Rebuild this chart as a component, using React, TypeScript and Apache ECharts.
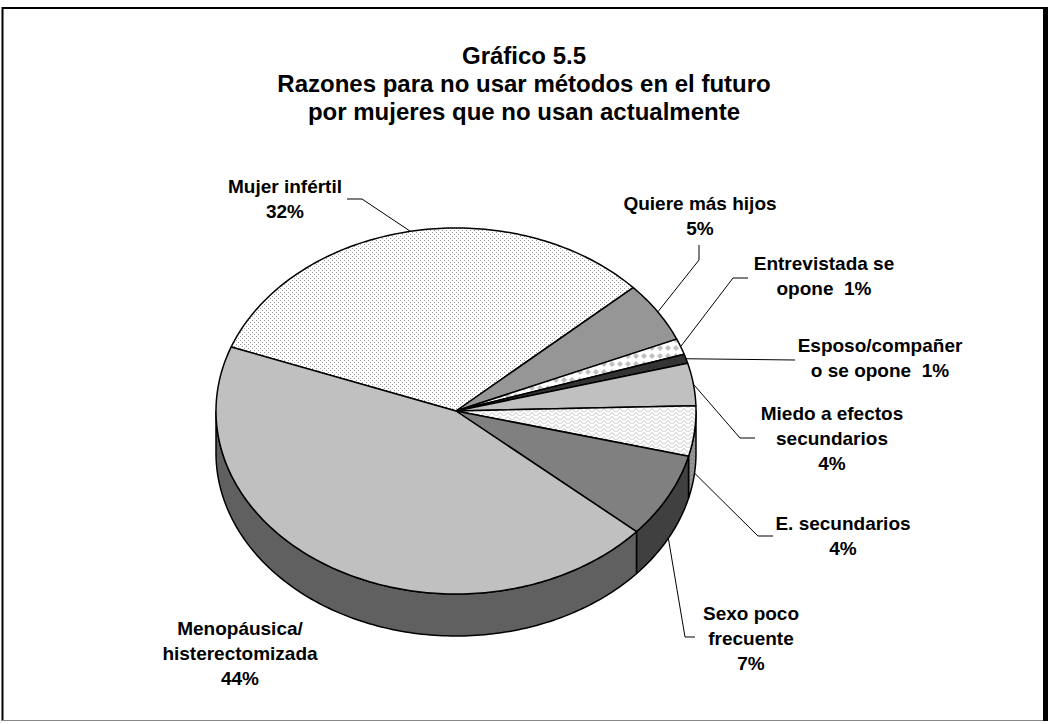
import React, { useEffect, useRef } from "react";
import * as echarts from "echarts";

// ---------- data ----------
const CATEGORIES = [
  "Mujer infértil",
  "Quiere más hijos",
  "Entrevistada se opone",
  "Esposo/compañero se opone",
  "Miedo a efectos secundarios",
  "E. secundarios",
  "Sexo poco frecuente",
  "Menopáusica/histerectomizada",
];
const LABEL_LINES = [
  "Mujer infértil",
  "Quiere más hijos",
  "Entrevistada se\nopone",
  "Esposo/compañer\no se opone",
  "Miedo a efectos\nsecundarios",
  "E. secundarios",
  "Sexo poco\nfrecuente",
  "Menopáusica/\nhisterectomizada",
];
const VALUES = [32.2, 5.3, 1.4, 0.8, 3.7, 4.4, 7.4, 43.8];
const TITLE_LINES = [
  "Gráfico 5.5",
  "Razones para no usar métodos en el futuro",
  "por mujeres que no usan actualmente",
];

// ---------- layout / style ----------
const FONT = "'Liberation Sans', Arial, sans-serif";
const PIE = { cx: 456, cy: 411, rx: 240, ry: 183, depth: 42, start: 200.5 };
const LABEL_LAYOUT: { x: number; y: number; sep: string; leader: number[][] | null }[] = [
  { x: 285, y: 199, sep: "\n", leader: [[347, 199], [362, 199]] },
  { x: 700, y: 216, sep: "\n", leader: [[699, 245], [699, 260]] },
  { x: 824, y: 276, sep: "  ", leader: [[748, 278], [733, 278]] },
  { x: 880, y: 358, sep: "  ", leader: [[795, 360]] },
  { x: 832, y: 438, sep: "\n", leader: [[755, 438], [740, 438]] },
  { x: 843, y: 536, sep: "\n", leader: [[773, 536], [758, 536]] },
  { x: 751, y: 638, sep: "\n", leader: [[695, 637], [685, 637]] },
  { x: 240, y: 653, sep: "\n", leader: null },
];
const TOP_FILL = ["dots", "#969696", "diamond", "#333333", "#c0c0c0", "zigzag", "#808080", "#c0c0c0"];
const SIDE_FILL = ["#777777", "#4b4b4b", "#888888", "#1a1a1a", "#606060", "zigzagDark", "#404040", "#606060"];

function makePattern(w: number, h: number, draw: (ctx: CanvasRenderingContext2D) => void) {
  const c = document.createElement("canvas");
  c.width = w;
  c.height = h;
  const ctx = c.getContext("2d") as CanvasRenderingContext2D;
  draw(ctx);
  return { image: c.toDataURL(), repeat: "repeat", imageWidth: w, imageHeight: h };
}

function buildPatterns() {
  const dots = makePattern(4, 4, (ctx) => {
    ctx.fillStyle = "#ffffff";
    ctx.fillRect(0, 0, 4, 4);
    ctx.fillStyle = "#9a9a9a";
    ctx.fillRect(0, 0, 1, 1);
    ctx.fillRect(2, 2, 1, 1);
  });
  const diamond = makePattern(8, 8, (ctx) => {
    ctx.fillStyle = "#ffffff";
    ctx.fillRect(0, 0, 8, 8);
    ctx.fillStyle = "#c0c0c0";
    ctx.beginPath();
    ctx.moveTo(4, 1);
    ctx.lineTo(7, 4);
    ctx.lineTo(4, 7);
    ctx.lineTo(1, 4);
    ctx.closePath();
    ctx.fill();
  });
  const zig = (bg: string, fg: string) =>
    makePattern(8, 8, (ctx) => {
      ctx.fillStyle = bg;
      ctx.fillRect(0, 0, 8, 8);
      ctx.strokeStyle = fg;
      ctx.lineWidth = 1;
      ctx.beginPath();
      ctx.moveTo(0, 4.5);
      ctx.lineTo(4, 0.5);
      ctx.lineTo(8, 4.5);
      ctx.moveTo(0, 8.5);
      ctx.lineTo(4, 4.5);
      ctx.lineTo(8, 8.5);
      ctx.stroke();
    });
  return {
    dots,
    diamond,
    zigzag: zig("#ffffff", "#bdbdbd"),
    zigzagDark: zig("#8a8a8a", "#a8a8a8"),
  } as Record<string, any>;
}

export default function App() {
  const ref = useRef<HTMLDivElement>(null);

  useEffect(() => {
    document.body.style.margin = "0";
    if (!ref.current) return;
    const chart = echarts.init(ref.current, undefined, { renderer: "svg" });
    const patterns = buildPatterns();
    const fillOf = (k: string) => patterns[k] || k;

    const total = VALUES.reduce((a, b) => a + b, 0);
    const starts: number[] = [];
    const ends: number[] = [];
    let acc = 0;
    VALUES.forEach((v) => {
      starts.push(PIE.start + (360 * acc) / total);
      acc += v;
      ends.push(PIE.start + (360 * acc) / total);
    });
    const rad = (d: number) => (d * Math.PI) / 180;
    const pt = (a: number, dy = 0) => [
      PIE.cx + PIE.rx * Math.cos(rad(a)),
      PIE.cy + PIE.ry * Math.sin(rad(a)) + dy,
    ];
    const arc = (a0: number, a1: number, dy = 0) => {
      const n = Math.max(2, Math.ceil(Math.abs(a1 - a0)));
      const out: number[][] = [];
      for (let k = 0; k <= n; k++) out.push(pt(a0 + ((a1 - a0) * k) / n, dy));
      return out;
    };

    const data = VALUES.map((v, i) => ({ name: CATEGORIES[i], value: [v] }));

    const option: any = {
      animation: false,
      backgroundColor: "#ffffff",
      title: {
        text: TITLE_LINES.join("\n"),
        left: "center",
        top: 36,
        textStyle: { fontFamily: FONT, fontSize: 24, fontWeight: "bold", color: "#000", lineHeight: 28 },
      },
      graphic: [
        { type: "line", shape: { x1: 2.5, y1: 7, x2: 2.5, y2: 721 }, style: { stroke: "#000", lineWidth: 2 } },
        { type: "line", shape: { x1: 2, y1: 8, x2: 1048, y2: 8 }, style: { stroke: "#000", lineWidth: 2 } },
        { type: "rect", shape: { x: 1043, y: 7, width: 5, height: 714 }, style: { fill: "#000" } },
        { type: "line", shape: { x1: 2, y1: 720.5, x2: 1043, y2: 720.5 }, style: { stroke: "#888", lineWidth: 1 } },
      ],
      series: [
        {
          type: "custom",
          coordinateSystem: "none",
          silent: true,
          z: 1,
          data,
          renderItem: (params: any) => {
            const i = params.dataIndex;
            const s = Math.max(starts[i], 360);
            const e = Math.min(ends[i], 540);
            if (e <= s) return null;
            const top = arc(s, e, 0);
            const bottom = arc(e, s, PIE.depth);
            return {
              type: "polygon",
              shape: { points: top.concat(bottom) },
              style: { fill: fillOf(SIDE_FILL[i]), stroke: "#000", lineWidth: 1.5, lineJoin: "round" },
            };
          },
        },
        {
          type: "custom",
          coordinateSystem: "none",
          silent: true,
          z: 2,
          data,
          renderItem: (params: any) => {
            const i = params.dataIndex;
            const pts = [[PIE.cx, PIE.cy]].concat(arc(starts[i], ends[i], 0));
            return {
              type: "polygon",
              shape: { points: pts },
              style: { fill: fillOf(TOP_FILL[i]), stroke: "#000", lineWidth: 1.5, lineJoin: "round" },
            };
          },
        },
        {
          type: "custom",
          coordinateSystem: "none",
          silent: true,
          z: 3,
          data,
          renderItem: (params: any, api: any) => {
            const i = params.dataIndex;
            const L = LABEL_LAYOUT[i];
            const pct = Math.round(api.value(0)) + "%";
            const children: any[] = [
              {
                type: "text",
                style: {
                  text: LABEL_LINES[i] + L.sep + pct,
                  x: L.x,
                  y: L.y,
                  align: "center",
                  verticalAlign: "middle",
                  fontFamily: FONT,
                  fontSize: 19,
                  fontWeight: "bold",
                  lineHeight: 25,
                  fill: "#000",
                },
              },
            ];
            if (L.leader) {
              const m = (starts[i] + ends[i]) / 2;
              const front = Math.sin(rad(m)) > 0;
              const anchor = pt(m, front ? PIE.depth : 0);
              children.push({
                type: "polyline",
                shape: { points: L.leader.concat([anchor]) },
                style: { stroke: "#000", lineWidth: 1, fill: null },
              });
            }
            return { type: "group", children };
          },
        },
      ],
    };
    chart.setOption(option);
    return () => chart.dispose();
  }, []);

  return <div ref={ref} style={{ width: 1048, height: 724 }} />;
}
